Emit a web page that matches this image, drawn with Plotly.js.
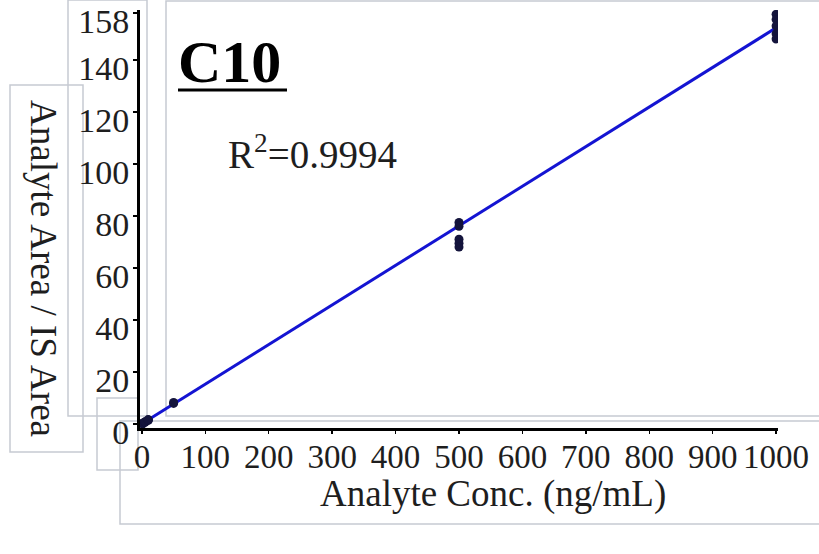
<!DOCTYPE html>
<html>
<head>
<meta charset="utf-8">
<script src="https://cdn.plot.ly/plotly-3.0.1.min.js"></script>
<style>html,body{margin:0;padding:0;background:#fff;}#chart{width:819px;height:554px;}</style>
</head>
<body>
<div id="chart"></div>
<script>
// Calibration data
var concX = [1, 1, 1, 5, 5, 5, 10, 10, 10, 50, 50, 500, 500, 500, 500, 500, 1000, 1000, 1000, 1000, 1000];
var areaRatio = [0.1, 0.2, 0.3, 0.6, 0.8, 0.9, 1.4, 1.5, 1.7, 7.9, 8.3, 77.5, 76.0, 71.0, 69.5, 68.0, 157.5, 155.5, 153.0, 150.0, 148.0];
var fitX = [0, 1000];
var fitY = [0.1, 152.3];
var yTickVals = [0, 20, 40, 60, 80, 100, 120, 140, 158];
var yTickText = ['0', '20', '40', '60', '80', '100', '120', '140', '158'];
var xTickVals = [0, 100, 200, 300, 400, 500, 600, 700, 800, 900, 1000];
var xTickText = ['0', '100', '200', '300', '400', '500', '600', '700', '800', '900', '1000'];
var chartTitle = 'C10';
var r2Text = 'R<sup>2</sup>=0.9994';
var xTitle = 'Analyte Conc. (ng/mL)';
var yTitle = 'Analyte Area / IS Area';

var W = 819, H = 554;
var M = {l: 140, r: 41, t: 10, b: 126};
var PW = W - M.l - M.r, PH = H - M.t - M.b;
function px(x) { return (x - M.l) / PW; }
function py(y) { return (H - M.b - y) / PH; }

var serif = 'Liberation Serif, Times New Roman, serif';

function box(x0, y0, x1, y1) {
  return {type: 'rect', xref: 'paper', yref: 'paper', x0: px(x0), x1: px(x1), y0: py(y1), y1: py(y0),
          line: {color: '#c6cad2', width: 1.5}, fillcolor: 'rgba(0,0,0,0)', layer: 'below'};
}

var traces = [
  {x: fitX, y: fitY, type: 'scatter', mode: 'lines', line: {color: '#1414d2', width: 3}, hoverinfo: 'skip', showlegend: false},
  {x: concX, y: areaRatio, type: 'scatter', mode: 'markers', marker: {color: '#14143c', size: 9}, showlegend: false}
];

var layout = {
  width: W, height: H,
  margin: M,
  paper_bgcolor: '#ffffff', plot_bgcolor: 'rgba(0,0,0,0)',
  showlegend: false,
  font: {family: serif, color: '#1e1e1e'},
  xaxis: {
    range: [-3, 1003], showgrid: false, zeroline: false,
    showline: true, linecolor: '#000', linewidth: 3,
    tickmode: 'array', tickvals: xTickVals, ticktext: xTickText,
    ticks: 'outside', ticklen: 3, tickwidth: 1.5, tickcolor: '#000',
    ticklabelstandoff: -6, ticklabeloverflow: 'allow',
    tickfont: {family: serif, size: 33, color: '#1e1e1e'}
  },
  yaxis: {
    range: [-1.54, 159.15], showgrid: false, zeroline: false,
    showline: true, linecolor: '#000', linewidth: 3,
    tickmode: 'array', tickvals: yTickVals, ticktext: yTickText,
    ticks: 'outside', ticklen: 4, tickwidth: 1.5, tickcolor: '#000',
    ticklabeloverflow: 'allow', ticklabelshift: 8, ticklabelstandoff: -3,
    tickfont: {family: serif, size: 34, color: '#1e1e1e'}
  },
  shapes: [
    box(10, 85, 83, 452),
    box(68, 0, 147, 416),
    box(166, 1, 830, 416),
    box(97, 398, 138, 470),
    box(120, 421, 830, 524),
    {type: 'line', xref: 'paper', yref: 'paper', x0: px(178), x1: px(287), y0: py(90), y1: py(90), line: {color: '#000', width: 3}}
  ],
  annotations: [
    {text: chartTitle, xref: 'paper', yref: 'paper', x: px(176), y: py(62), xanchor: 'left', yanchor: 'middle', showarrow: false,
     font: {family: serif, size: 60, color: '#000', weight: 'bold'}},
    {text: r2Text, xref: 'paper', yref: 'paper', x: px(226), y: py(152), xanchor: 'left', yanchor: 'middle', showarrow: false,
     font: {family: serif, size: 39, color: '#1e1e1e'}},
    {text: xTitle, xref: 'paper', yref: 'paper', x: px(493), y: py(494), xanchor: 'center', yanchor: 'middle', showarrow: false,
     font: {family: serif, size: 37, color: '#1e1e1e'}},
    {text: yTitle, xref: 'paper', yref: 'paper', x: px(44), y: py(268), xanchor: 'center', yanchor: 'middle', showarrow: false, textangle: 90,
     font: {family: serif, size: 37, color: '#1e1e1e'}}
  ]
};

Plotly.newPlot('chart', traces, layout, {displayModeBar: false, staticPlot: true});
</script>
</body>
</html>
